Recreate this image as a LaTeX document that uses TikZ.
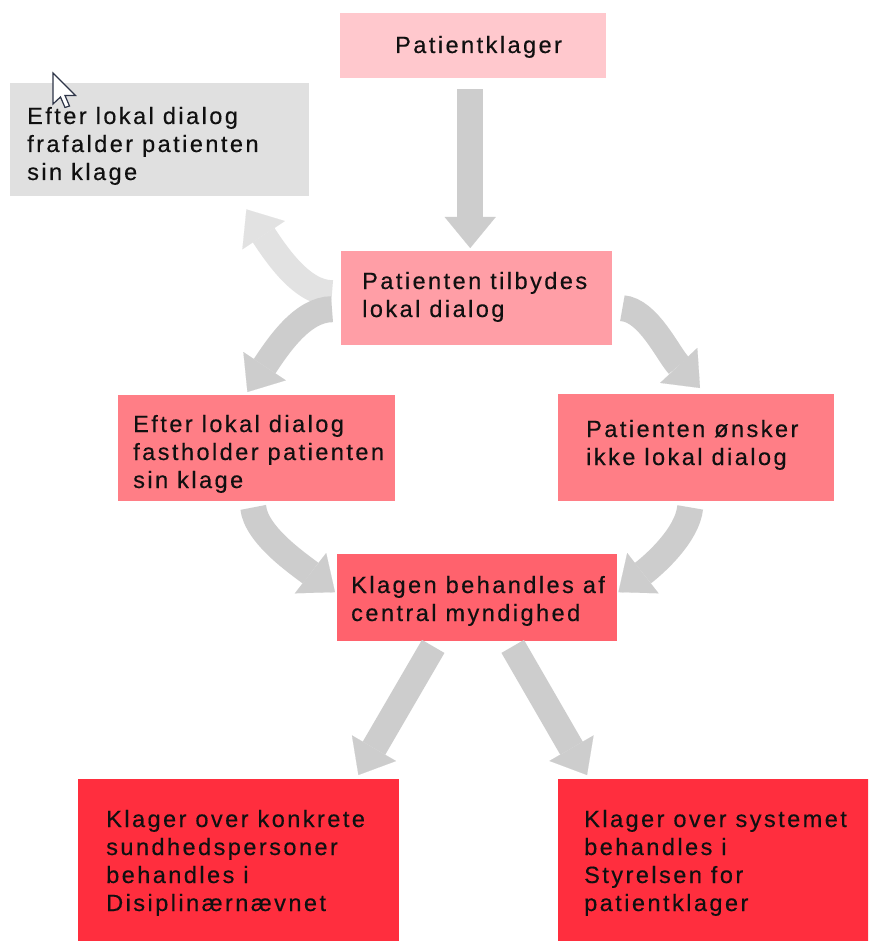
\documentclass[tikz,border=0pt]{standalone}
\usepackage{fontspec}
\setmainfont{Liberation Sans}[LetterSpace=10.5,FakeBold=0.35]
\usetikzlibrary{arrows.meta,calc}
\definecolor{cpk}{HTML}{FFC8CD}
\definecolor{cgrey}{HTML}{E0E0E0}
\definecolor{ctilb}{HTML}{FF9EA6}
\definecolor{cmid}{HTML}{FF7E86}
\definecolor{cklag}{HTML}{FF626D}
\definecolor{cbot}{HTML}{FF2E3E}
\definecolor{arrowc}{HTML}{CDCDCD}
\definecolor{arrowlight}{HTML}{E2E2E2}
\definecolor{textc}{HTML}{101010}
\definecolor{cursorc}{HTML}{2E3548}
\newcommand\boxlines[1]{\begin{tabular}[t]{@{}l@{}}#1\end{tabular}}
\begin{document}
\begin{tikzpicture}[x=1pt,y=-1pt,
  box/.style={rectangle, draw=none, inner sep=0pt, anchor=north west},
  lbl/.style={inner sep=0pt, anchor=base west, text=textc, font=\fontsize{23.5pt}{28pt}\selectfont},
  fat/.style={draw=arrowc, line width=26pt, line cap=butt,
    -{Triangle[length=31pt,width=51pt,line width=0.1pt]}},
]
\useasboundingbox (0,0) rectangle (868,941);
\clip (0,0) rectangle (868,941);
\fill[white] (0,0) rectangle (868,941);

% boxes
\node[box, fill=cpk,   minimum width=266pt, minimum height=65pt]  (pk)   at (340,13)  {};
\node[box, fill=cgrey, minimum width=299pt, minimum height=113pt] (ga)   at (10,83)   {};
\node[box, fill=ctilb, minimum width=271pt, minimum height=94pt]  (tilb) at (341,251) {};
\node[box, fill=cmid,  minimum width=277pt, minimum height=106pt] (fast) at (118,395) {};
\node[box, fill=cmid,  minimum width=276pt, minimum height=107pt] (onsk) at (558,394) {};
\node[box, fill=cklag, minimum width=280pt, minimum height=87pt]  (klag) at (337,554) {};
\node[box, fill=cbot,  minimum width=321pt, minimum height=170pt] (bl)   at (78,779)  {};
\node[box, fill=cbot,  minimum width=320pt, minimum height=170pt] (br)   at (558,779) {};

% texts
\node[lbl] (pk-t)   at (395,53)  {Patientklager};
\node[lbl] (ga-t)   at (27,124)  {\boxlines{Efter lokal dialog\\frafalder patienten\\sin klage}};
\node[lbl] (tilb-t) at (362,289) {\boxlines{Patienten tilbydes\\lokal dialog}};
\node[lbl] (fast-t) at (133,432) {\boxlines{Efter lokal dialog\\fastholder patienten\\sin klage}};
\node[lbl] (onsk-t) at (586,437) {\boxlines{Patienten ønsker\\ikke lokal dialog}};
\node[lbl] (klag-t) at (351,593) {\boxlines{Klagen behandles af\\central myndighed}};
\node[lbl] (bl-t)   at (106,827) {\boxlines{Klager over konkrete\\sundhedspersoner\\behandles i\\Disiplinærnævnet}};
\node[lbl] (br-t)   at (584,827) {\boxlines{Klager over systemet\\behandles i\\Styrelsen for\\patientklager}};

% connectors
\draw[fat] ($(pk.south)+(-3,11)$) -- ($(tilb.north)+(-6.5,-3)$);
\draw[fat, draw=arrowlight] ($(tilb.west)+(-9,-5)$) .. controls +(-30,0) and +(30,45) .. ($(ga.south east)+(-63,13)$);
\draw[fat] ($(tilb.west)+(-9,11)$) .. controls +(-30,0) and +(30,-45) .. ($(fast.north east)+(-148,-3)$);
\draw[fat] ($(tilb.east)+(10,10)$) .. controls +(26,2) and +(-32,-34) .. ($(onsk.north west)+(142,-6)$);
\draw[fat] ($(fast.south)+(-3.5,6)$) .. controls +(3,28) and +(-36,-28) .. ($(klag.west)+(-2,-5.5)$);
\draw[fat] ($(onsk.south)+(-6,6)$) .. controls +(-3,28) and +(36,-28) .. ($(klag.east)+(1,-5.5)$);
\draw[fat] ($(klag.south)+(-44,5)$) -- ($(bl.north east)+(-41,-4)$);
\draw[fat] ($(klag.south)+(35.5,5)$) -- ($(br.north west)+(29,-4)$);

% mouse pointer
\filldraw[fill=white, draw=cursorc, line width=1.2pt, line join=miter]
  (53,73) -- (53,104) -- (60.5,97) -- (65,107.5) -- (69.5,106) -- (65,95.5) -- (75.5,95.5) -- cycle;
\end{tikzpicture}
\end{document}
